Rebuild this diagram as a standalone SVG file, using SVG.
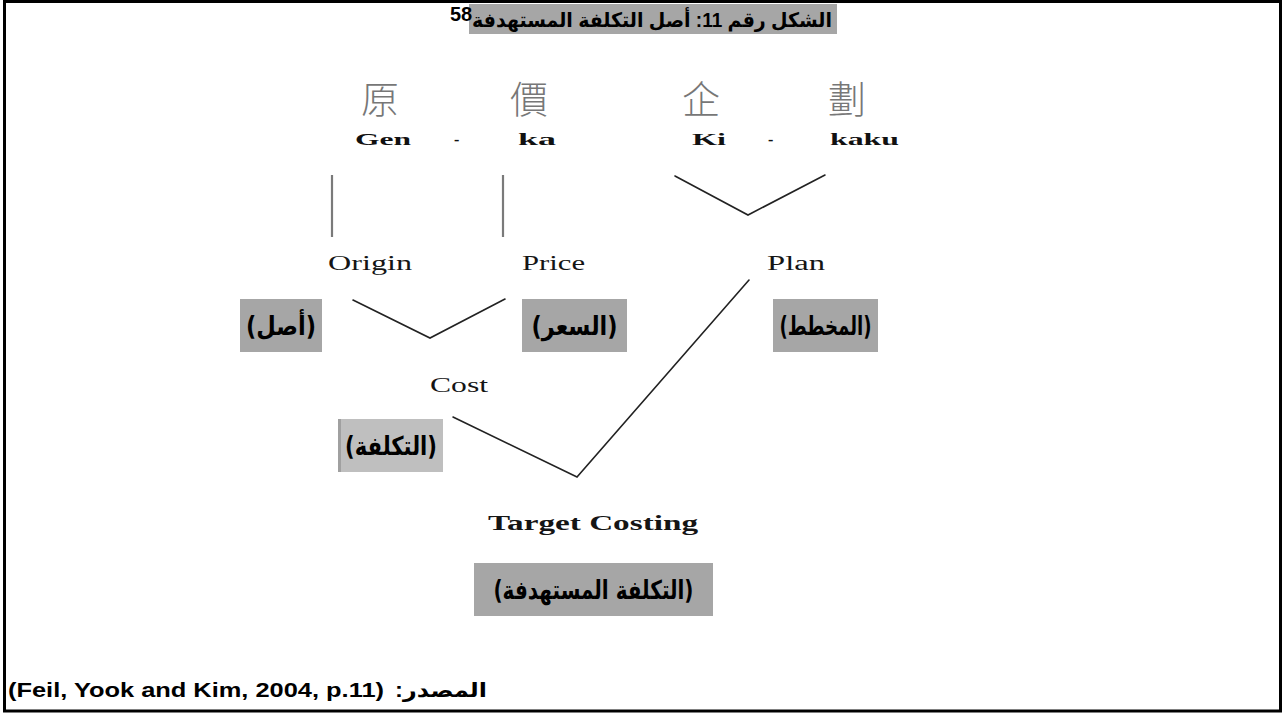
<svg xmlns="http://www.w3.org/2000/svg" width="1282" height="713" viewBox="0 0 1282 713">
  <style>
    .frame { fill: #ffffff; stroke: #000000; stroke-width: 3; }
    .band { fill: #a6a6a6; }
    .band-light { fill: #bfbfbf; }
    .kanji { font-family: "Noto Sans CJK TC", "Noto Sans CJK JP", sans-serif; font-size: 38px; font-weight: 300; fill: #777777; text-anchor: middle; }
    .roma { font-family: "Liberation Serif", serif; font-size: 16px; font-weight: bold; fill: #111111; }
    .term { font-family: "Liberation Serif", serif; font-size: 20px; fill: #151515; }
    .term-b { font-family: "Liberation Serif", serif; font-size: 20px; font-weight: bold; fill: #151515; }
    .ar { font-family: "DejaVu Sans", sans-serif; font-size: 26px; font-weight: bold; fill: #000000; text-anchor: middle; direction: rtl; unicode-bidi: embed; }
    .title { font-family: "Liberation Sans", "DejaVu Sans", sans-serif; font-size: 20px; font-weight: bold; fill: #000000; }
    .link { fill: none; stroke: #222222; stroke-width: 1.6; stroke-linecap: round; stroke-linejoin: miter; }
    .stem { fill: none; stroke: #7a7a7a; stroke-width: 2.2; }
  </style>

  <!-- page frame -->
  <rect class="frame" x="4.5" y="1.5" width="1276" height="709.5"/>

  <!-- figure caption -->
  <g id="caption">
    <rect class="band" x="469" y="4" width="368" height="30"/>
    <text class="title" x="652" y="27" text-anchor="middle" direction="rtl" unicode-bidi="embed" textLength="360" lengthAdjust="spacingAndGlyphs">الشكل رقم 11: أصل التكلفة المستهدفة</text>
    <text class="title" x="450" y="21" font-size="12">58</text>
  </g>

  <!-- Japanese source words -->
  <g id="genka">
    <text class="kanji" x="380" y="113">原</text>
    <text class="kanji" x="529" y="113">價</text>
    <text class="roma" x="355" y="145" textLength="56" lengthAdjust="spacingAndGlyphs">Gen</text>
    <text class="roma" x="454" y="145">-</text>
    <text class="roma" x="518" y="145" textLength="38" lengthAdjust="spacingAndGlyphs">ka</text>
  </g>
  <g id="kikaku">
    <text class="kanji" x="701" y="113">企</text>
    <text class="kanji" x="847" y="113">劃</text>
    <text class="roma" x="692" y="145" textLength="34" lengthAdjust="spacingAndGlyphs">Ki</text>
    <text class="roma" x="768" y="145">-</text>
    <text class="roma" x="830" y="145" textLength="69" lengthAdjust="spacingAndGlyphs">kaku</text>
  </g>

  <!-- meanings -->
  <g id="origin">
    <text class="term" x="328" y="270" textLength="84" lengthAdjust="spacingAndGlyphs">Origin</text>
    <rect class="band" x="240" y="299" width="82" height="53"/>
    <text class="ar" x="281" y="335" textLength="70" lengthAdjust="spacingAndGlyphs">(أصل)</text>
  </g>
  <g id="price">
    <text class="term" x="522" y="270" textLength="63" lengthAdjust="spacingAndGlyphs">Price</text>
    <rect class="band" x="522" y="299" width="105" height="53"/>
    <text class="ar" x="574.5" y="335" textLength="86" lengthAdjust="spacingAndGlyphs">(السعر)</text>
  </g>
  <g id="plan">
    <text class="term" x="767" y="270" textLength="58" lengthAdjust="spacingAndGlyphs">Plan</text>
    <rect class="band" x="773" y="299" width="105" height="53"/>
    <text class="ar" x="825.5" y="335" textLength="92" lengthAdjust="spacingAndGlyphs">(المخطط)</text>
  </g>
  <g id="cost">
    <text class="term" x="430" y="392" textLength="58" lengthAdjust="spacingAndGlyphs">Cost</text>
    <rect class="band-light" x="338" y="419" width="105" height="53"/>
    <rect x="338" y="419" width="3" height="53" fill="#a0a0a0"/>
    <text class="ar" x="391" y="455" textLength="92" lengthAdjust="spacingAndGlyphs">(التكلفة)</text>
  </g>
  <g id="target-costing">
    <text class="term-b" x="488" y="530" textLength="210" lengthAdjust="spacingAndGlyphs">Target Costing</text>
    <rect class="band" x="474" y="563" width="239" height="53"/>
    <text class="ar" x="593.5" y="599" textLength="200" lengthAdjust="spacingAndGlyphs">(التكلفة المستهدفة)</text>
  </g>

  <!-- connectors -->
  <g id="connectors">
    <line class="stem" x1="332" y1="175" x2="332" y2="237"/>
    <line class="stem" x1="503" y1="175" x2="503" y2="237"/>
    <polyline class="link" points="675,176 748,215 825,175"/>
    <polyline class="link" points="353,300 430,338 505,299"/>
    <polyline class="link" points="453,417 577,477 749,280"/>
  </g>

  <!-- reference line -->
  <g id="source">
    <text class="title" x="8" y="697" font-size="23" textLength="376" lengthAdjust="spacingAndGlyphs">(Feil, Yook and Kim, 2004, p.11)</text>
    <text class="title" x="441" y="697" font-size="23" text-anchor="middle" direction="rtl" unicode-bidi="embed" textLength="92" lengthAdjust="spacingAndGlyphs">المصدر:</text>
  </g>
</svg>
